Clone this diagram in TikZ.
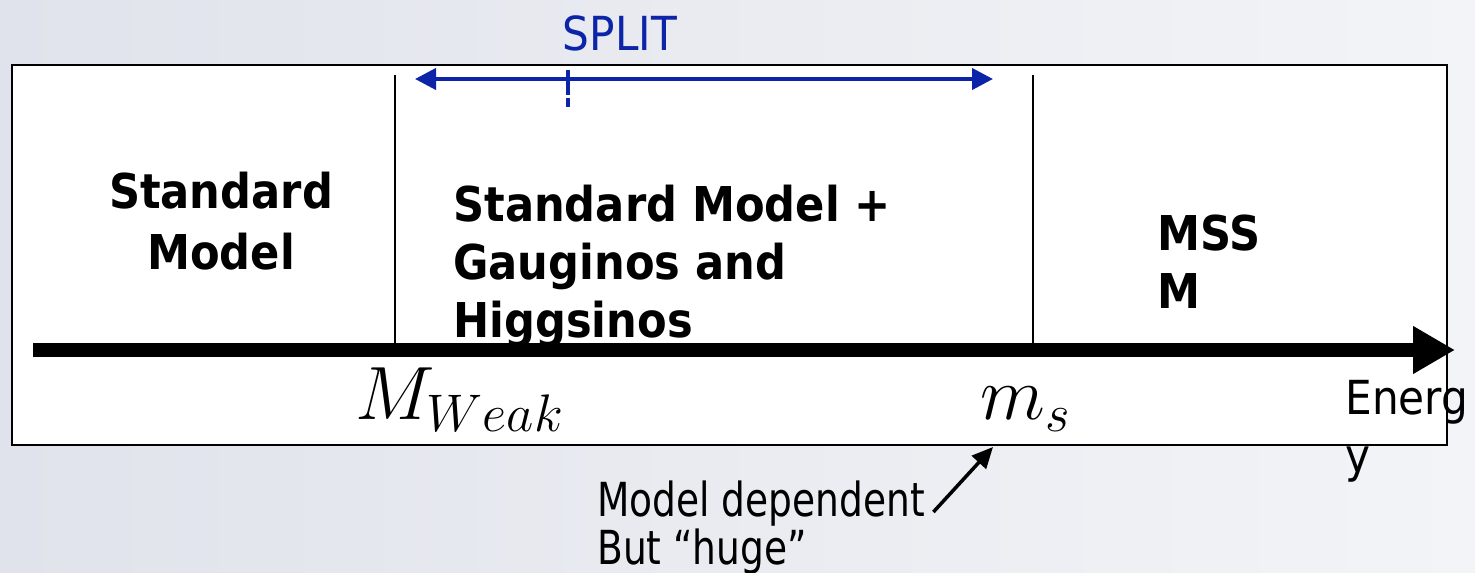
\RequirePackage{fix-cm}
\documentclass[tikz,border=0pt]{standalone}
\usepackage{fontspec}
\usepackage{tikz}
\usetikzlibrary{arrows.meta, positioning}
\newfontfamily\txtfont[FakeStretch=0.8]{DejaVu Sans}
\newfontfamily\headfont[FakeStretch=0.9]{DejaVu Sans}
\definecolor{splitblue}{RGB}{12,36,168}
\definecolor{bgleft}{RGB}{224,227,235}
\definecolor{bgright}{RGB}{243,244,247}

\begin{document}
\begin{tikzpicture}[
  region/.style={inner sep=0pt, align=left, font=\headfont\bfseries\fontsize{27.3}{33}\selectfont},
  note/.style={inner sep=0pt, align=left, font=\txtfont\fontsize{26.7}{27.2}\selectfont},
  mathlbl/.style={inner sep=0pt, anchor=base west, font=\fontsize{43}{46}\selectfont},
  divider/.style={line width=1pt},
  axis/.style={-{Triangle[length=0.84cm,width=0.9cm]}, line width=8pt},
  span/.style={{Triangle[length=0.42cm,width=0.42cm]}-{Triangle[length=0.42cm,width=0.42cm]}, line width=2.3pt, splitblue},
  arr/.style={-{Triangle[length=0.42cm,width=0.38cm]}, line width=2pt}
]
\useasboundingbox (0,0) rectangle (29.5,11.46);
\shade[left color=bgleft, right color=bgright] (0,0) rectangle (29.5,11.46);
% frame
\draw[line width=1.1pt, fill=white] (0.24,2.56) rectangle (28.94,10.16);
% split range
\node[font=\headfont\fontsize{26.7}{30}\selectfont, text=splitblue, inner sep=0pt] (split) at (12.4,10.8) {SPLIT};
\coordinate (spl) at (8.3,9.88);
\coordinate (spr) at (19.86,9.88);
\draw[span] (spl) -- (spr);
\draw[splitblue, line width=2.3pt] (11.36,10.06) -- (11.36,9.56);
\draw[splitblue, line width=2.3pt] (11.36,9.5) -- (11.36,9.32);
% thresholds
\draw[divider] (7.9,9.96) -- (7.9,4.6);
\draw[divider] (20.66,9.96) -- (20.66,4.6);
% energy axis
\coordinate (e0) at (0.66,4.46);
\coordinate (e1) at (29.1,4.46);
\draw[axis] (e0) -- (e1);
% regions
\node[region, align=center, anchor=north, font=\headfont\bfseries\fontsize{27.3}{34.6}\selectfont] (sm) at (4.42,8.02) {Standard\\Model};
\node[region, anchor=north west] (smgh) at (9.06,7.76) {Standard Model +\\Gauginos and\\Higgsinos};
\node[region, anchor=north west] (mssm) at (23.14,7.16) {MSS\\M};
% scales
\node[mathlbl] (mweak) at (7.1,3.06) {$M_{Weak}$};
\node[mathlbl] (ms) at (19.6,3.06) {$m_s$};
\node[note, anchor=north west, font=\headfont\fontsize{26.7}{33}\selectfont] (energy) at (26.9,3.86) {Energ\\y};
\node[note, anchor=north west] (dep) at (11.94,1.84) {Model dependent\\But “huge”};
\coordinate (hugetip) at (19.86,2.52);
\draw[arr] ([shift={(0.16,-0.62)}]dep.north east) -- (hugetip);
\end{tikzpicture}
\end{document}
